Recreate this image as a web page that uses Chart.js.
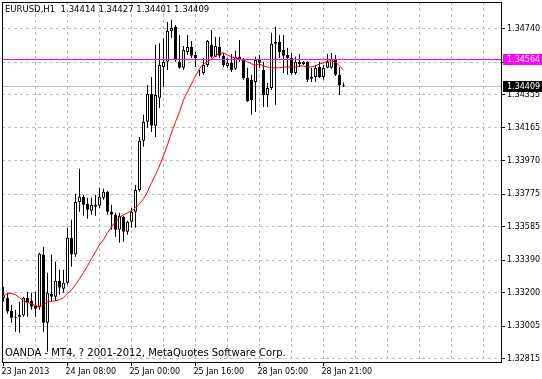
<!DOCTYPE html>
<html>
<head>
<meta charset="utf-8">
<script src="https://cdn.jsdelivr.net/npm/chart.js@4.4.0/dist/chart.umd.min.js"></script>
<style>
    html, body { margin: 0; padding: 0; background: #fff; }
    #wrap { width: 542px; height: 379px; }
</style>
</head>
<body>
<div id="wrap"><canvas id="chart" width="542" height="379"></canvas></div>
<script>
const symbol = "EURUSD,H1";
const copyright = "OANDA - MT4, ? 2001-2012, MetaQuotes Software Corp.";

// H1 bars, oldest first
const open = [
    1.33172, 1.33172, 1.33096, 1.33061, 1.33073, 1.33068, 1.33172, 1.33154, 1.33126, 1.33119,
    1.33424, 1.33026, 1.33195, 1.33178, 1.33271, 1.33224, 1.33259, 1.33522, 1.33424, 1.33731,
    1.33761, 1.33720, 1.33679, 1.33714, 1.33708, 1.33755, 1.33790, 1.33673, 1.33656, 1.33568,
    1.33644, 1.33557, 1.33615, 1.33673, 1.33801, 1.34087, 1.34198, 1.34361, 1.34175, 1.34338,
    1.34518, 1.34548, 1.34728, 1.34752, 1.34548, 1.34513, 1.34606, 1.34635, 1.34588, 1.34483,
    1.34483, 1.34530, 1.34647, 1.34577, 1.34635, 1.34583, 1.34524, 1.34542, 1.34507, 1.34577,
    1.34559, 1.34454, 1.34443, 1.34431, 1.34559, 1.34501, 1.34355, 1.34396, 1.34653, 1.34664,
    1.34618, 1.34588, 1.34571, 1.34483, 1.34548, 1.34536, 1.34548, 1.34449, 1.34460, 1.34518,
    1.34460, 1.34513, 1.34513, 1.34559, 1.34472, 1.34414,
];
const high = [
    1.33236, 1.33201, 1.33131, 1.33102, 1.33148, 1.33178, 1.33207, 1.33201, 1.33207, 1.33434,
    1.33469, 1.33318, 1.33424, 1.33382, 1.33335, 1.33335, 1.33580, 1.33627, 1.33778, 1.33924,
    1.33772, 1.33755, 1.33755, 1.33772, 1.33813, 1.33807, 1.33796, 1.33714, 1.33667, 1.33667,
    1.33650, 1.33621, 1.33696, 1.33830, 1.34110, 1.34239, 1.34413, 1.34460, 1.34647, 1.34658,
    1.34687, 1.34781, 1.34793, 1.34763, 1.34705, 1.34641, 1.34705, 1.34670, 1.34606, 1.34501,
    1.34571, 1.34676, 1.34734, 1.34693, 1.34693, 1.34600, 1.34571, 1.34594, 1.34612, 1.34676,
    1.34571, 1.34513, 1.34472, 1.34577, 1.34588, 1.34548, 1.34425, 1.34717, 1.34752, 1.34705,
    1.34705, 1.34629, 1.34600, 1.34577, 1.34594, 1.34553, 1.34551, 1.34513, 1.34530, 1.34548,
    1.34530, 1.34594, 1.34600, 1.34588, 1.34518, 1.34427,
];
const low = [
    1.33148, 1.33078, 1.33026, 1.32974, 1.32968, 1.33061, 1.33061, 1.33102, 1.33061, 1.33102,
    1.32974, 1.32857, 1.33148, 1.33154, 1.33189, 1.33201, 1.33248, 1.33353, 1.33411, 1.33673,
    1.33650, 1.33632, 1.33656, 1.33650, 1.33696, 1.33743, 1.33656, 1.33568, 1.33527, 1.33492,
    1.33498, 1.33539, 1.33580, 1.33580, 1.33790, 1.34052, 1.34163, 1.34139, 1.34110, 1.34279,
    1.34402, 1.34501, 1.34687, 1.34548, 1.34507, 1.34501, 1.34588, 1.34571, 1.34518, 1.34466,
    1.34472, 1.34518, 1.34571, 1.34574, 1.34571, 1.34518, 1.34513, 1.34489, 1.34501, 1.34548,
    1.34443, 1.34314, 1.34239, 1.34256, 1.34513, 1.34285, 1.34285, 1.34384, 1.34297, 1.34571,
    1.34483, 1.34472, 1.34472, 1.34472, 1.34518, 1.34530, 1.34431, 1.34431, 1.34431, 1.34454,
    1.34443, 1.34510, 1.34507, 1.34466, 1.34355, 1.34401,
];
const close = [
    1.33189, 1.33091, 1.33055, 1.33055, 1.33061, 1.33172, 1.33143, 1.33119, 1.33108, 1.33428,
    1.33026, 1.33201, 1.33178, 1.33271, 1.33230, 1.33259, 1.33522, 1.33424, 1.33731, 1.33761,
    1.33714, 1.33685, 1.33714, 1.33703, 1.33761, 1.33790, 1.33673, 1.33656, 1.33568, 1.33650,
    1.33557, 1.33615, 1.33673, 1.33801, 1.34087, 1.34198, 1.34361, 1.34175, 1.34355, 1.34530,
    1.34548, 1.34728, 1.34746, 1.34559, 1.34513, 1.34618, 1.34635, 1.34583, 1.34571, 1.34480,
    1.34530, 1.34670, 1.34577, 1.34641, 1.34583, 1.34530, 1.34542, 1.34501, 1.34577, 1.34559,
    1.34454, 1.34320, 1.34326, 1.34559, 1.34542, 1.34355, 1.34396, 1.34653, 1.34664, 1.34606,
    1.34583, 1.34571, 1.34483, 1.34548, 1.34536, 1.34548, 1.34443, 1.34460, 1.34513, 1.34460,
    1.34513, 1.34548, 1.34565, 1.34472, 1.34413, 1.34409,
];
// red moving average
const maValues = [
    1.33183, 1.33195, 1.33198, 1.33189, 1.33172, 1.33154, 1.33146, 1.33137, 1.33126, 1.33116,
    1.33131, 1.33148, 1.33151, 1.33154, 1.33160, 1.33172, 1.33195, 1.33218, 1.33248, 1.33283,
    1.33318, 1.33358, 1.33399, 1.33440, 1.33481, 1.33510, 1.33551, 1.33586, 1.33615, 1.33638,
    1.33656, 1.33667, 1.33679, 1.33696, 1.33720, 1.33749, 1.33790, 1.33842, 1.33889, 1.33941,
    1.34000, 1.34064, 1.34134, 1.34198, 1.34256, 1.34326, 1.34373, 1.34419, 1.34466, 1.34507,
    1.34536, 1.34548, 1.34565, 1.34583, 1.34600, 1.34600, 1.34588, 1.34577, 1.34571, 1.34565,
    1.34559, 1.34548, 1.34536, 1.34530, 1.34536, 1.34524, 1.34518, 1.34513, 1.34513, 1.34513,
    1.34518, 1.34518, 1.34518, 1.34518, 1.34524, 1.34524, 1.34518, 1.34518, 1.34524, 1.34536,
    1.34542, 1.34553, 1.34553, 1.34548, 1.34524, 1.34501,
];

const timeTickIndex = [0, 16, 32, 48, 64, 80];
const timeTickLabels = ["23 Jan 2013", "24 Jan 08:00", "25 Jan 00:00", "25 Jan 16:00", "28 Jan 05:00", "28 Jan 21:00"];
const priceTicks = [1.34740, 1.34545, 1.34355, 1.34165, 1.33970, 1.33775, 1.33585, 1.33390, 1.33200, 1.33005, 1.32815];
const priceMin = 1.32797;
const priceMax = 1.34897;
const alertLevel = 1.34564;
const bidLevel = 1.34409;

const barsOnScreen = 125;
const gridEvery = 8;
const FONT = "DejaVu Sans";
const last = close.length - 1;

Chart.defaults.font.family = FONT;
Chart.defaults.font.size = 8;
Chart.defaults.color = "#000";

const clear = "rgba(0,0,0,0)";

// levels, frame and the MT4 text
const overlay = {
    id: "overlay",
    beforeDatasetsDraw(chart) {
        const { ctx, chartArea: a, scales } = chart;
        const y = Math.round(scales.y.getPixelForValue(bidLevel)) + 0.5;
        ctx.save();
        ctx.strokeStyle = "#c0c0c0";
        ctx.lineWidth = 1;
        ctx.beginPath();
        ctx.moveTo(a.left, y);
        ctx.lineTo(a.right, y);
        ctx.stroke();
        ctx.restore();
    },
    afterDatasetsDraw(chart) {
        const { ctx, chartArea: a, scales } = chart;
        const y = Math.round(scales.y.getPixelForValue(alertLevel)) + 0.5;
        ctx.save();
        ctx.strokeStyle = "#ff00ff";
        ctx.lineWidth = 1;
        ctx.beginPath();
        ctx.moveTo(a.left, y);
        ctx.lineTo(a.right, y);
        ctx.stroke();
        ctx.restore();
    },
    afterDraw(chart) {
        const { ctx, chartArea: a, scales } = chart;
        ctx.save();
        ctx.strokeStyle = "#000";
        ctx.lineWidth = 1;
        ctx.strokeRect(a.left + 0.5, a.top + 0.5, a.right - a.left - 1, a.bottom - a.top);

        ctx.font = `8px "${FONT}"`;
        ctx.textBaseline = "middle";
        ctx.textAlign = "left";
        [[alertLevel, "#ff00ff"], [bidLevel, "#000"]].forEach(([v, col]) => {
            const y = Math.round(scales.y.getPixelForValue(v));
            ctx.fillStyle = col;
            ctx.fillRect(a.right + 1, y - 5, 40, 11);
            ctx.fillStyle = "#fff";
            ctx.fillText(v.toFixed(5), a.right + 5, y + 0.5);
        });

        ctx.fillStyle = "#000";
        ctx.font = `8.5px "${FONT}"`;
        const ohlc = [open[last], high[last], low[last], close[last]].map((v) => v.toFixed(5)).join(" ");
        ctx.fillText(`${symbol}  ${ohlc}`, 5, 10);
        ctx.font = `10px "${FONT}"`;
        ctx.fillText(copyright, 5, 353);
        ctx.restore();
    },
};

const bodies = open.map((o, i) => ({ x: i, y: [o, close[i]] }));
const wicks = low.map((l, i) => ({ x: i, y: [l, high[i]] }));
const maLine = maValues.map((v, i) => ({ x: i, y: v }));

new Chart(document.getElementById("chart"), {
    type: "bar",
    data: {
        datasets: [
            {
                type: "line",
                data: maLine,
                borderColor: "#ff0000",
                borderWidth: 1,
                pointRadius: 0,
                tension: 0,
                order: 0,
            },
            {
                data: bodies,
                backgroundColor: open.map((o, i) => (close[i] >= o ? "#fff" : "#000")),
                borderColor: "#000",
                borderWidth: 1,
                borderSkipped: false,
                barThickness: 3,
                grouped: false,
                inflateAmount: 0,
                order: 1,
            },
            {
                data: wicks,
                backgroundColor: "#000",
                borderWidth: 0,
                barThickness: 1,
                grouped: false,
                inflateAmount: 0,
                order: 2,
            },
        ],
    },
    options: {
        responsive: false,
        animation: false,
        events: [],
        layout: { padding: { left: 2, top: 2, right: 0, bottom: 0 }, autoPadding: false },
        plugins: {
            legend: { display: false },
            tooltip: { enabled: false },
        },
        scales: {
            x: {
                type: "linear",
                offset: false,
                min: -0.375,
                max: barsOnScreen - 0.375,
                afterBuildTicks: (s) => {
                    const t = [];
                    for (let v = 0; v < barsOnScreen; v += gridEvery) t.push({ value: v });
                    s.ticks = t;
                },
                afterFit: (s) => {
                    s.height = 17;
                    s.paddingLeft = 0;
                    s.paddingRight = 0;
                },
                ticks: {
                    autoSkip: false,
                    maxRotation: 0,
                    minRotation: 0,
                    align: "start",
                    labelOffset: -2,
                    padding: 1,
                    callback: (v) => {
                        const k = timeTickIndex.indexOf(v);
                        return k >= 0 ? timeTickLabels[k] : "";
                    },
                },
                grid: {
                    offset: false,
                    color: (c) => (c.tick && c.tick.value === 0 ? clear : "#c0c0c0"),
                    tickColor: (c) => (c.tick && timeTickIndex.includes(c.tick.value) ? "#000" : clear),
                    tickLength: 4,
                    lineWidth: 1,
                },
                border: { display: false, dash: [3, 3] },
            },
            y: {
                type: "linear",
                position: "right",
                min: priceMin,
                max: priceMax,
                afterBuildTicks: (s) => {
                    s.ticks = priceTicks.map((v) => ({ value: v }));
                },
                afterFit: (s) => {
                    s.width = 40;
                    s.paddingTop = 0;
                    s.paddingBottom = 0;
                },
                ticks: {
                    autoSkip: false,
                    padding: 2,
                    callback: (v) => v.toFixed(5),
                },
                grid: {
                    color: "#c0c0c0",
                    tickColor: "#000",
                    tickLength: 3,
                    lineWidth: 1,
                },
                border: { display: false, dash: [3, 3] },
            },
        },
    },
    plugins: [overlay],
});
</script>
</body>
</html>
